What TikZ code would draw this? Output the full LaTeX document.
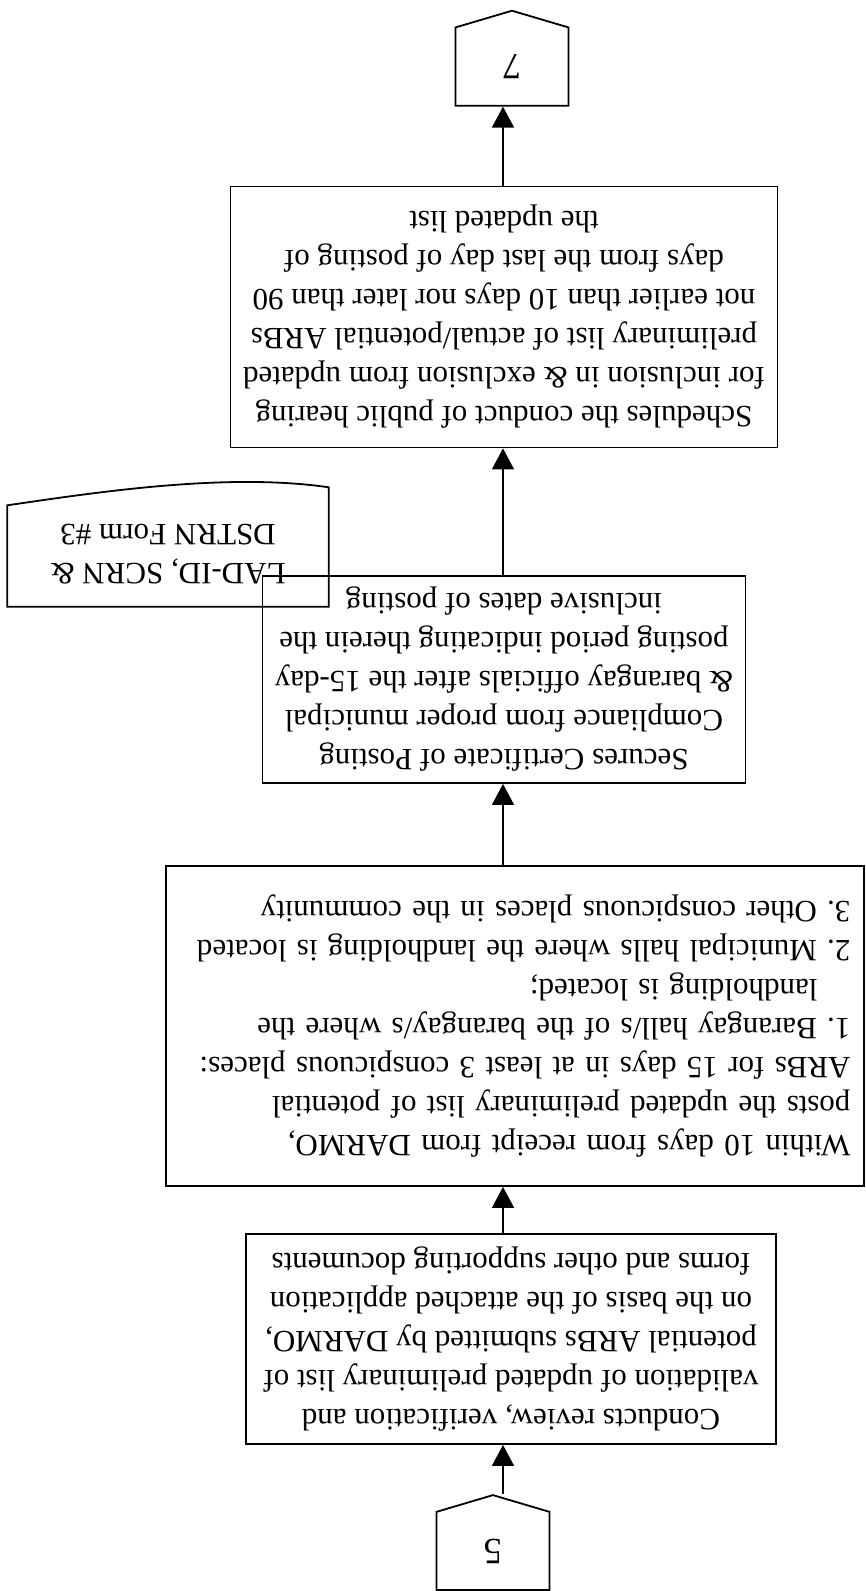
\documentclass[tikz,border=0pt]{standalone}
\usepackage{fontspec}
\setmainfont{Liberation Serif}
\usetikzlibrary{shapes.symbols, arrows.meta, calc}

\begin{document}
\begin{tikzpicture}[x=1pt, y=1pt]
        \tikzstyle{every node} = [font=\fontsize{31}{39}\selectfont\frenchspacing]
        \tikzstyle{box}     = [draw, line width=1.8pt, inner sep=0pt, align=center]
        \tikzstyle{offpage} = [draw, line width=1.8pt, inner sep=0pt, signal, signal to=south,
                signal pointer angle=147, minimum width=113pt, minimum height=81pt,
                font=\fontsize{37}{39}\selectfont]
        \tikzstyle{flow}    = [line width=1.4pt, -{Triangle[length=21pt, width=22pt]}]

        \def\spine{363}
        \def\colb{362}

        \begin{scope}[rotate=180, transform shape]
        \useasboundingbox (0,0) rectangle (866,1591);

        \coordinate (spine) at (\spine,0);

        \node[offpage, anchor=north] (pfive) at (373,1591) {5};

        \node[box, minimum width=530pt, minimum height=210pt] (conducts) at (355,1339)
            {Conducts review, verification and\\
             validation of updated preliminary list of\\
             potential ARBs submitted by DARMO,\\
             on the basis of the attached application\\
             forms and other supporting documents};

        \node[box, align=left, text width=671pt, minimum width=698pt, minimum height=320pt] (within) at (351,1026)
            {Within 10 days from receipt from DARMO,\\
             posts the updated preliminary list of potential\\
             ARBs for 15 days in at least 3 conspicuous places:\\
             1. Barangay hall/s of the barangay/s where the\\
             \hspace*{33pt}landholding is located;\\
             2. Municipal halls where the landholding is located\\
             3. Other conspicuous places in the community};

        \node[box, minimum width=483pt, minimum height=207pt] (secures) at (\colb,679.5)
            {Secures Certificate of Posting\\
             Compliance from proper municipal\\
             \& barangay officials after the 15-day\\
             posting period indicating therein the\\
             inclusive dates of posting};

        \node[inner sep=0pt, align=center, minimum width=321pt, minimum height=105pt] (lad) at (698,554)
            {LAD-ID, SCRN \&\\ DSTRN Form \#3};
        \draw[line width=1.8pt] (lad.north west) -- (lad.north east)
            -- ($(lad.south east)+(0,4)$)
            .. controls ($(lad.south east)+(-89,-9)$) and ($(lad.south west)+(102,-29)$)
            .. ($(lad.south west)+(0,-14)$) -- cycle;

        \node[box, minimum width=547pt, minimum height=261pt] (sched) at (\colb,317)
            {Schedules the conduct of public hearing\\
             for inclusion in \& exclusion from updated\\
             preliminary list of actual/potential ARBs\\
             not earlier than 10 days nor later than 90\\
             days from the last day of posting of\\
             the updated list};

        \node[offpage, anchor=north] (pseven) at (354,106.6) {7};

        \draw[flow] (pfive.south -| spine) -- (conducts.north -| spine);
        \draw[flow] (conducts.south -| spine) -- (within.north -| spine);
        \draw[flow] (within.south -| spine) -- (secures.north -| spine);
        \draw[flow] (secures.south -| spine) -- (sched.north -| spine);
        \draw[flow] (sched.south -| spine) -- (pseven.north -| spine);
        \end{scope}
    \end{tikzpicture}
\end{document}
